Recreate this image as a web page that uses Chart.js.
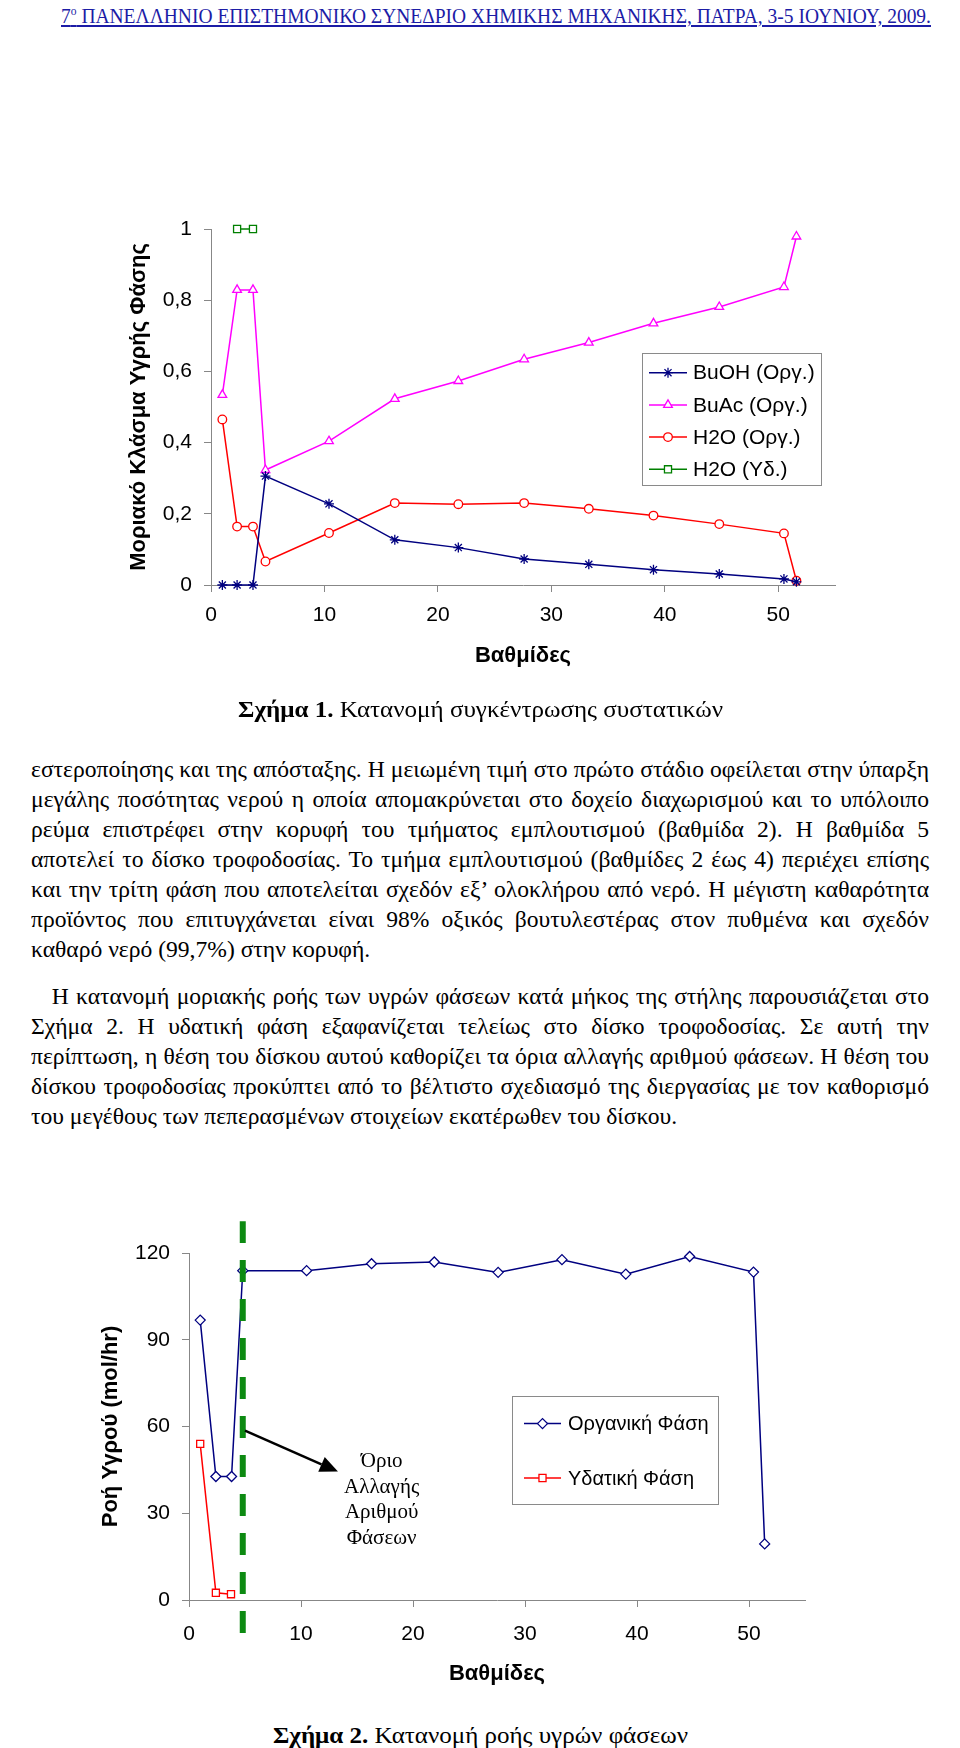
<!DOCTYPE html>
<html lang="el">
<head>
<meta charset="utf-8">
<title>Σχήματα 1 και 2</title>
<script src="https://cdn.jsdelivr.net/npm/chart.js@4.4.1/dist/chart.umd.min.js"></script>
<style>
  html, body { margin: 0; padding: 0; background: #fff; }
  body { position: relative; width: 960px; height: 1748px; overflow: hidden;
         font-family: "Liberation Serif", "Times New Roman", serif; color: #000; }
  .fit { position: absolute; left: 0; white-space: nowrap; transform-origin: 0 0; line-height: 30px; }
  #header { top: 1px; font-size: 22px; color: #1c1ca6; text-decoration: underline; }
  #header sup { font-size: 13px; vertical-align: 8px; line-height: 0; }
  .caption { font-size: 24px; }
  .para { position: absolute; left: 31px; font-size: 24px; line-height: 30px; transform-origin: 0 0; }
  .para div { text-align: justify; text-align-last: justify; }
  .para div.last { text-align: left; text-align-last: left; }
  .chartbox { position: absolute; }
</style>
</head>
<body>

<div id="header" class="fit" data-left="61" data-width="870">7<sup>ο</sup> ΠΑΝΕΛΛΗΝΙΟ ΕΠΙΣΤΗΜΟΝΙΚΟ ΣΥΝΕΔΡΙΟ ΧΗΜΙΚΗΣ ΜΗΧΑΝΙΚΗΣ, ΠΑΤΡΑ, 3-5 ΙΟΥΝΙΟΥ, 2009.</div>

<div class="chartbox" style="left:100px;top:190px;width:760px;height:510px">
  <canvas id="fig1" width="760" height="510"></canvas>
</div>
<div class="fit caption" style="top:694px" data-center="480" data-width="485"><b>Σχήμα 1.</b> Κατανομή συγκέντρωσης συστατικών</div>

<div class="para" id="p1" style="top:754px">
  <div>εστεροποίησης και της απόσταξης. Η μειωμένη τιμή στο πρώτο στάδιο οφείλεται στην ύπαρξη</div>
  <div>μεγάλης ποσότητας νερού η οποία απομακρύνεται στο δοχείο διαχωρισμού και το υπόλοιπο</div>
  <div>ρεύμα επιστρέφει στην κορυφή του τμήματος εμπλουτισμού (βαθμίδα 2). Η βαθμίδα 5</div>
  <div>αποτελεί το δίσκο τροφοδοσίας. Το τμήμα εμπλουτισμού (βαθμίδες 2 έως 4) περιέχει επίσης</div>
  <div>και την τρίτη φάση που αποτελείται σχεδόν εξ’ ολοκλήρου από νερό. Η μέγιστη καθαρότητα</div>
  <div>προϊόντος που επιτυγχάνεται είναι 98% οξικός βουτυλεστέρας στον πυθμένα και σχεδόν</div>
  <div class="last">καθαρό νερό (99,7%) στην κορυφή.</div>
</div>

<div class="para" id="p2" style="top:981px">
  <div style="padding-left:21px">Η κατανομή μοριακής ροής των υγρών φάσεων κατά μήκος της στήλης παρουσιάζεται στο</div>
  <div>Σχήμα 2. Η υδατική φάση εξαφανίζεται τελείως στο δίσκο τροφοδοσίας. Σε αυτή την</div>
  <div>περίπτωση, η θέση του δίσκου αυτού καθορίζει τα όρια αλλαγής αριθμού φάσεων. Η θέση του</div>
  <div>δίσκου τροφοδοσίας προκύπτει από το βέλτιστο σχεδιασμό της διεργασίας με τον καθορισμό</div>
  <div class="last">του μεγέθους των πεπερασμένων στοιχείων εκατέρωθεν του δίσκου.</div>
</div>

<div class="chartbox" style="left:70px;top:1200px;width:770px;height:500px">
  <canvas id="fig2" width="770" height="500"></canvas>
</div>
<div class="fit caption" style="top:1720px" data-center="480" data-width="415"><b>Σχήμα 2.</b> Κατανομή ροής υγρών φάσεων</div>

<script>
// Figure 1: mole fraction of the liquid phase per stage
const stages1 = [1, 2.3, 3.7, 4.8, 10.4, 16.2, 21.8, 27.6, 33.3, 39.0, 44.8, 50.5, 51.6];
const buohOrg = [0, 0, 0, 0.306, 0.228, 0.127, 0.105, 0.073, 0.058, 0.043, 0.031, 0.017, 0.009];
const buacOrg = [0.534, 0.829, 0.829, 0.323, 0.404, 0.523, 0.573, 0.634, 0.681, 0.735, 0.781, 0.837, 0.979];
const h2oOrg = [0.465, 0.164, 0.164, 0.066, 0.146, 0.230, 0.227, 0.230, 0.214, 0.195, 0.171, 0.145, 0.012];
const aqStages1 = [2.3, 3.7];
const h2oAq = [1, 1];
const labels1 = ["BuOH (Οργ.)", "BuAc (Οργ.)", "H2O (Οργ.)", "H2O (Υδ.)"];
const yTicks1 = [0, 0.2, 0.4, 0.6, 0.8, 1];

// Figure 2: liquid flow per stage
const stages2 = [1.0, 2.4, 3.8, 4.8, 10.5, 16.3, 21.9, 27.6, 33.3, 39.0, 44.7, 50.4, 51.4];
const orgFlow = [96.8, 42.7, 42.7, 113.9, 113.9, 116.3, 116.9, 113.3, 117.7, 112.7, 118.8, 113.4, 19.4];
const aqStages2 = [1.0, 2.4, 3.75];
const aqFlow = [54.0, 2.5, 2.0];
const labels2 = ["Οργανική Φάση", "Υδατική Φάση"];
const yTicks2 = [0, 30, 60, 90, 120];
const xTicks = [0, 10, 20, 30, 40, 50];

// feed tray boundary and its note
const feedStage = 4.8;
const boundarySpan = [-11.4, 131];
const arrowFrom = [5.0, 58.6];
const arrowTo = [13.3, 44.4];
const noteAt = [17.2, 47.9];
const noteLines = ["Όριο", "Αλλαγής", "Αριθμού", "Φάσεων"];

// ---- page text fitting ----
document.querySelectorAll(".fit").forEach(el => {
  const natural = el.getBoundingClientRect().width;
  const w = +el.dataset.width;
  el.style.transform = "scaleX(" + (w / natural) + ")";
  el.style.left = (el.dataset.center ? +el.dataset.center - w / 2 : +el.dataset.left) + "px";
});

const textWidth = 898;
let widest = 0;
["p1", "p2"].forEach(id => {
  const p = document.getElementById(id);
  p.style.whiteSpace = "nowrap";
  p.querySelectorAll("div").forEach(d => {
    const r = document.createRange();
    r.selectNodeContents(d);
    widest = Math.max(widest, r.getBoundingClientRect().width + (parseFloat(d.style.paddingLeft) || 0));
  });
  p.style.whiteSpace = "";
});
const squeeze = Math.min(1, textWidth / (widest + 2));
["p1", "p2"].forEach(id => {
  const p = document.getElementById(id);
  p.style.width = (textWidth / squeeze) + "px";
  p.style.transform = "scaleX(" + squeeze + ")";
});

// ---- charts ----
Chart.defaults.font.family = "'Liberation Sans', Arial, sans-serif";
Chart.defaults.color = "#000";
const axisGray = "#878787";

const pts = (xs, ys) => xs.map((x, i) => ({ x: x, y: ys[i] }));
const comma = v => String(Math.round(v * 10) / 10).replace(".", ",");

function series(label, xs, ys, color, style, radius) {
  return {
    label: label,
    data: pts(xs, ys),
    showLine: true,
    borderColor: color,
    borderWidth: 1.5,
    pointStyle: style,
    pointRadius: radius,
    pointHoverRadius: radius,
    pointBorderColor: color,
    pointBackgroundColor: "#fff",
    pointBorderWidth: 1.3,
    clip: false,
  };
}

function stageAxis(height, labelPad, titlePad) {
  return {
    type: "linear",
    min: 0,
    max: 55,
    afterBuildTicks: s => { s.ticks = xTicks.map(v => ({ value: v })); },
    ticks: { font: { size: 21 }, padding: labelPad, maxRotation: 0, autoSkip: false },
    grid: { drawOnChartArea: false, tickLength: 7, color: axisGray },
    border: { color: axisGray },
    title: { display: true, text: "Βαθμίδες", font: { size: 22, weight: "bold" }, padding: { top: 0, bottom: titlePad } },
    afterFit: s => { s.height = height; },
  };
}

function valueAxis(max, tickList, fmt, title, width, titlePad) {
  return {
    min: 0,
    max: max,
    afterBuildTicks: s => { s.ticks = tickList.map(v => ({ value: v })); },
    ticks: { font: { size: 21 }, padding: 12, callback: fmt },
    grid: { drawOnChartArea: false, tickLength: 7, color: axisGray },
    border: { color: axisGray },
    title: { display: true, text: title, font: { size: 22, weight: "bold" }, padding: { top: titlePad, bottom: 0 } },
    afterFit: s => { s.width = width; },
  };
}

// legend drawn as a framed box inside the plot
const boxLegend = {
  id: "boxLegend",
  afterDraw(chart, args, o) {
    const ctx = chart.ctx;
    ctx.save();
    ctx.fillStyle = "#fff";
    ctx.fillRect(o.x, o.y, o.w, o.h);
    ctx.strokeStyle = "#8a8a8a";
    ctx.lineWidth = 1;
    ctx.strokeRect(o.x + 0.5, o.y + 0.5, o.w, o.h);
    ctx.font = o.size + "px 'Liberation Sans', Arial, sans-serif";
    ctx.textBaseline = "middle";
    chart.data.datasets.forEach((ds, i) => {
      const y = o.y + o.first + i * o.gap;
      ctx.strokeStyle = ds.borderColor;
      ctx.lineWidth = ds.borderWidth;
      ctx.beginPath();
      ctx.moveTo(o.x + o.line[0], y);
      ctx.lineTo(o.x + o.line[1], y);
      ctx.stroke();
      ctx.fillStyle = ds.pointBackgroundColor;
      ctx.lineWidth = ds.pointBorderWidth;
      Chart.helpers.drawPoint(ctx, { pointStyle: ds.pointStyle, radius: ds.pointRadius, rotation: 0, borderWidth: ds.pointBorderWidth },
        o.x + (o.line[0] + o.line[1]) / 2, y);
      ctx.fillStyle = "#000";
      ctx.fillText(ds.label, o.x + o.text, y + 1);
    });
    ctx.restore();
  },
};

// dashed feed-tray line, arrow and note of figure 2
const phaseBoundary = {
  id: "phaseBoundary",
  afterDatasetsDraw(chart) {
    const { ctx, scales: { x, y } } = chart;
    const px = x.getPixelForValue(feedStage);
    ctx.save();
    ctx.strokeStyle = "#0d8a12";
    ctx.lineWidth = 6;
    ctx.setLineDash([22, 17]);
    ctx.beginPath();
    ctx.moveTo(px, y.getPixelForValue(boundarySpan[0]));
    ctx.lineTo(px, y.getPixelForValue(boundarySpan[1]));
    ctx.stroke();
    ctx.setLineDash([]);

    const x0 = x.getPixelForValue(arrowFrom[0]), y0 = y.getPixelForValue(arrowFrom[1]);
    const x1 = x.getPixelForValue(arrowTo[0]), y1 = y.getPixelForValue(arrowTo[1]);
    const a = Math.atan2(y1 - y0, x1 - x0);
    const head = 18, half = 8;
    const bx = x1 - head * Math.cos(a), by = y1 - head * Math.sin(a);
    ctx.strokeStyle = "#000";
    ctx.fillStyle = "#000";
    ctx.lineWidth = 2.5;
    ctx.beginPath();
    ctx.moveTo(x0, y0);
    ctx.lineTo(bx, by);
    ctx.stroke();
    ctx.beginPath();
    ctx.moveTo(x1, y1);
    ctx.lineTo(bx + half * Math.sin(a), by - half * Math.cos(a));
    ctx.lineTo(bx - half * Math.sin(a), by + half * Math.cos(a));
    ctx.closePath();
    ctx.fill();

    ctx.font = "21px 'Liberation Serif', 'Times New Roman', serif";
    ctx.textAlign = "center";
    ctx.textBaseline = "middle";
    const tx = x.getPixelForValue(noteAt[0]);
    const ty = y.getPixelForValue(noteAt[1]);
    noteLines.forEach((t, i) => ctx.fillText(t, tx, ty + i * 25.5));
    ctx.restore();
  },
};

new Chart(document.getElementById("fig1").getContext("2d"), {
  type: "scatter",
  data: {
    datasets: [
      series(labels1[0], stages1, buohOrg, "#000080", "star", 5),
      series(labels1[1], stages1, buacOrg, "#ff00ff", "triangle", 5),
      series(labels1[2], stages1, h2oOrg, "#ff0000", "circle", 4.3),
      series(labels1[3], aqStages1, h2oAq, "#008000", "rect", 5),
    ],
  },
  options: {
    responsive: false,
    animation: false,
    events: [],
    layout: { padding: { left: 0, top: 39, right: 25, bottom: 0 } },
    scales: {
      x: stageAxis(115, 11, 31),
      y: valueAxis(1, yTicks1, comma, "Μοριακό Κλάσμα Υγρής Φάσης", 111, 26),
    },
    plugins: {
      legend: { display: false },
      tooltip: { enabled: false },
      boxLegend: { x: 542, y: 163, w: 179, h: 132, first: 19.7, gap: 32.2, line: [7, 45], text: 51, size: 21 },
    },
  },
  plugins: [boxLegend],
});

new Chart(document.getElementById("fig2").getContext("2d"), {
  type: "scatter",
  data: {
    datasets: [
      series(labels2[0], stages2, orgFlow, "#000080", "rectRot", 5),
      series(labels2[1], aqStages2, aqFlow, "#ff0000", "rect", 5),
    ],
  },
  options: {
    responsive: false,
    animation: false,
    events: [],
    layout: { padding: { left: 0, top: 53, right: 35, bottom: 0 } },
    scales: {
      x: stageAxis(100, 15, 13),
      y: valueAxis(120, yTicks2, v => String(v), "Ροή Υγρού (mol/hr)", 119, 28),
    },
    plugins: {
      legend: { display: false },
      tooltip: { enabled: false },
      boxLegend: { x: 442, y: 196, w: 206, h: 108, first: 27.6, gap: 54.4, line: [12, 49], text: 56, size: 20 },
    },
  },
  plugins: [boxLegend, phaseBoundary],
});
</script>
</body>
</html>
